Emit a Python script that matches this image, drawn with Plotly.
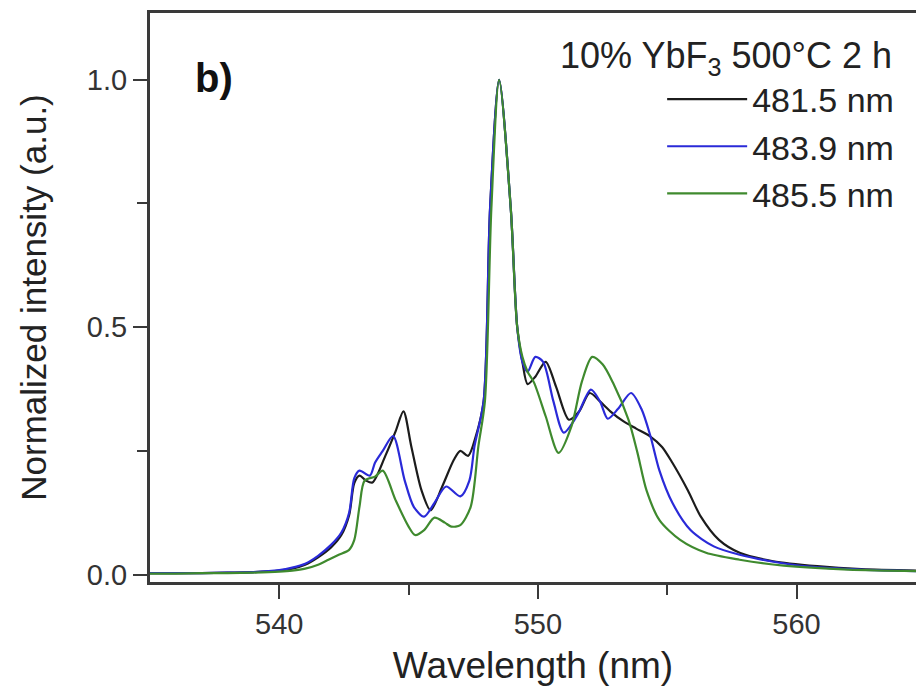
import plotly.graph_objects as go

# ---- data ----
x_4815 = [535, 536, 537, 538, 539, 540, 540.5, 541, 541.5, 542, 542.4, 542.7, 542.9, 543.1, 543.35,
          543.6, 544.1, 544.5, 544.8, 545.1, 545.5, 545.85, 546.3, 546.75, 547.0, 547.3, 547.6, 547.9,
          548.15, 548.5, 548.95, 549.2, 549.4, 549.6, 549.9, 550.3, 550.7, 551.2, 551.6, 552.0, 552.4,
          552.8, 553.3, 553.8, 554.35, 554.8, 555.2, 555.8, 556.3, 557.0, 557.8, 559.1, 560.8, 562.5, 564.7]
y_4815 = [0.003, 0.003, 0.003, 0.004, 0.005, 0.008, 0.012, 0.02, 0.035, 0.055, 0.08, 0.12, 0.185, 0.2, 0.19,
          0.186, 0.24, 0.29, 0.33, 0.26, 0.17, 0.13, 0.178, 0.232, 0.25, 0.24, 0.28, 0.35,
          0.74, 1.0, 0.74, 0.5, 0.43, 0.385, 0.4, 0.43, 0.38, 0.313, 0.33, 0.367, 0.35,
          0.33, 0.31, 0.295, 0.279, 0.258, 0.226, 0.17, 0.117, 0.07, 0.044, 0.027, 0.017, 0.011, 0.008]

x_4839 = [535, 536, 537, 538, 539, 540, 540.5, 541, 541.5, 542, 542.4, 542.7, 542.9, 543.1, 543.5, 543.7,
          544.0, 544.4, 544.85, 545.2, 545.6, 546.0, 546.45, 547.0, 547.35, 547.55, 547.9, 548.15, 548.5,
          548.95, 549.2, 549.4, 549.6, 549.9, 550.2, 550.6, 551.0, 551.5, 552.05, 552.4, 552.7, 553.1,
          553.6, 554.0, 554.35, 554.7, 555.2, 555.9, 556.8, 557.8, 559.0, 560.5, 562.5, 564.7]
y_4839 = [0.003, 0.003, 0.003, 0.004, 0.005, 0.009, 0.014, 0.022, 0.038, 0.06, 0.085, 0.125, 0.195, 0.21, 0.2, 0.226,
          0.25, 0.28, 0.19, 0.137, 0.117, 0.145, 0.178, 0.158, 0.19, 0.26, 0.35, 0.74, 1.0,
          0.74, 0.5, 0.43, 0.41, 0.44, 0.43, 0.35, 0.287, 0.32, 0.374, 0.35, 0.315, 0.335,
          0.367, 0.335, 0.28, 0.21, 0.145, 0.09, 0.057, 0.04, 0.027, 0.016, 0.01, 0.007]

x_4855 = [535, 536, 537, 538, 539, 540, 540.5, 541, 541.5, 541.9, 542.3, 542.7, 542.9, 543.1, 543.3, 543.7,
          544.0, 544.5, 545.0, 545.25, 545.6, 546.0, 546.4, 546.65, 547.0, 547.4, 547.7, 547.95, 548.2,
          548.5, 548.95, 549.2, 549.4, 549.6, 549.85, 550.3, 550.8, 551.3, 551.7, 552.1, 552.5, 552.9,
          553.5, 553.85, 554.2, 554.7, 555.5, 556.5, 557.8, 559.5, 562, 564.7]
y_4855 = [0.002, 0.002, 0.003, 0.003, 0.004, 0.006, 0.008, 0.012, 0.02, 0.03, 0.04, 0.05, 0.07, 0.137, 0.19, 0.198,
          0.21, 0.15, 0.097, 0.08, 0.09, 0.115, 0.105, 0.097, 0.1, 0.137, 0.26, 0.35, 0.74,
          1.0, 0.74, 0.5, 0.44, 0.41, 0.388, 0.32, 0.246, 0.3, 0.39, 0.44, 0.425, 0.388,
          0.313, 0.246, 0.17, 0.11, 0.07, 0.044, 0.03, 0.018, 0.01, 0.007]

series_names = ["481.5 nm", "483.9 nm", "485.5 nm"]
series_colors = ["#1c1c1c", "#2a2ad8", "#3f8a2e"]
x_tick_vals = [540, 550, 560]
y_tick_vals = [0.0, 0.5, 1.0]
y_tick_text = ["0.0", "0.5", "1.0"]

FONT = "Liberation Sans, Arial, Helvetica, sans-serif"
AX = "#3a3a3a"

fig = go.Figure()
for xs, ys, name, col in zip([x_4815, x_4839, x_4855], [y_4815, y_4839, y_4855], series_names, series_colors):
    fig.add_trace(go.Scatter(x=xs, y=ys, mode="lines", name=name,
                             line=dict(color=col, width=2.2, shape="spline", smoothing=0.8)))

fig.update_layout(
    width=916, height=694,
    margin=dict(l=150, r=0, t=13, b=112),
    paper_bgcolor="white", plot_bgcolor="white",
    font=dict(family=FONT, color="#222222"),
    showlegend=True,
    legend=dict(x=0.978, xanchor="right", y=0.899, yanchor="top",
                font=dict(size=34, family=FONT, color="#222222"),
                bgcolor="rgba(0,0,0,0)", itemwidth=80, tracegroupgap=0,
                traceorder="normal"),
    xaxis=dict(range=[535, 564.62], tickvals=x_tick_vals, ticks="outside", ticklen=14, tickwidth=2,
               tickcolor=AX, showline=True, linecolor=AX, linewidth=3, mirror=True,
               showgrid=False, zeroline=False,
               tickfont=dict(size=29, family=FONT, color="#333333"),
               minor=dict(tickvals=[545, 555], ticks="outside", ticklen=10, tickwidth=2, tickcolor=AX),
               title=dict(text="Wavelength (nm)", font=dict(size=37, family=FONT, color="#222222"),
                          standoff=14)),
    yaxis=dict(range=[-0.015, 1.135], tickvals=y_tick_vals, ticktext=y_tick_text, ticks="outside",
               ticklen=14, tickwidth=2, tickcolor=AX, showline=True, linecolor=AX, linewidth=3,
               showgrid=False, zeroline=False,
               tickfont=dict(size=29, family=FONT, color="#333333"),
               minor=dict(tickvals=[0.25, 0.75], ticks="outside", ticklen=10, tickwidth=2, tickcolor=AX),
               title=dict(text="Normalized intensity (a.u.)", font=dict(size=35, family=FONT, color="#222222"),
                          standoff=30)),
)

fig.add_annotation(xref="paper", yref="paper", x=0.971, y=0.921, xanchor="right", yanchor="middle",
                   text="10% YbF<sub>3</sub> 500°C 2 h", showarrow=False,
                   font=dict(size=36, family=FONT, color="#222222"))
fig.add_annotation(xref="paper", yref="paper", x=0.056, y=0.885, xanchor="left", yanchor="middle",
                   text="<b>b)</b>", showarrow=False,
                   font=dict(size=40, family=FONT, color="#111111"))

fig.write_html("out.html")
